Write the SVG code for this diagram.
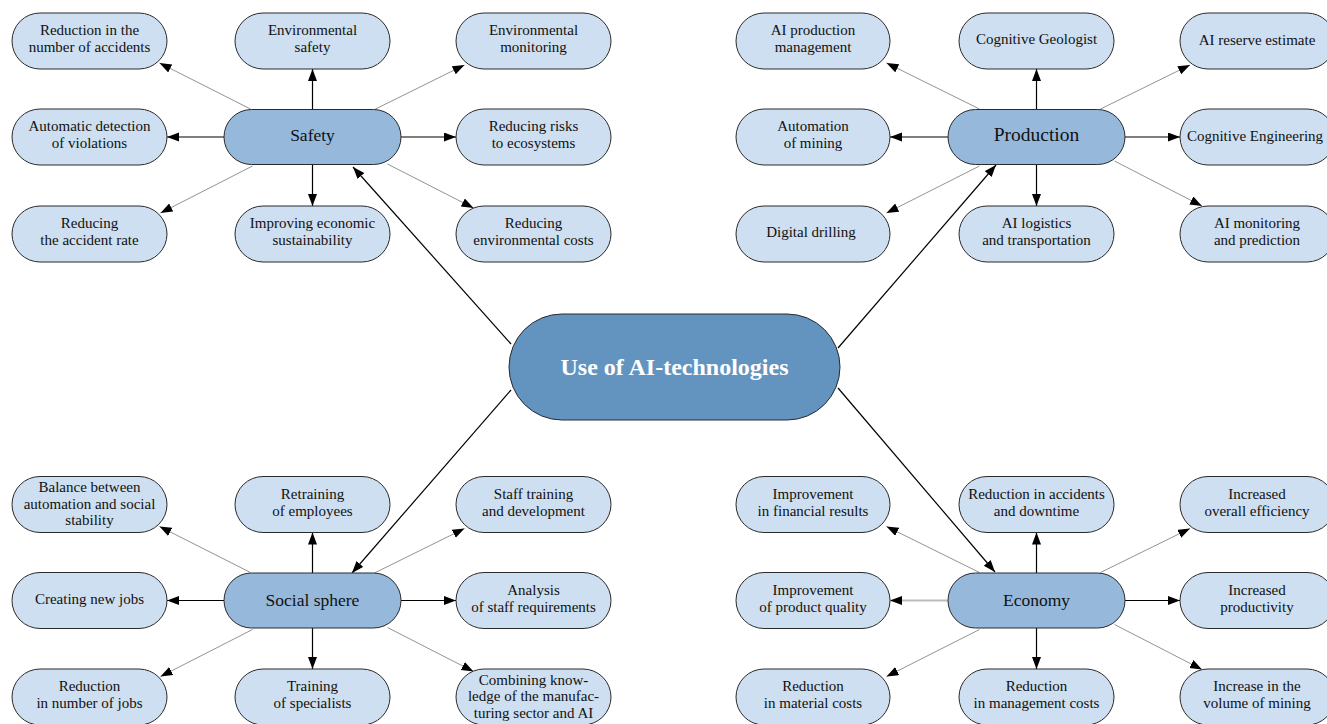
<svg xmlns="http://www.w3.org/2000/svg" width="1327" height="724" viewBox="0 0 1327 724">
<defs>
<marker id="ah" markerUnits="userSpaceOnUse" markerWidth="13" markerHeight="10" refX="12" refY="4.5" orient="auto">
<path d="M0,0 L12,4.5 L0,9 z" fill="#000"/>
</marker>
<style>
.leaf{fill:#cddff0;stroke:#2a2a2a;stroke-width:1}
.hub{fill:#95b8db;stroke:#2a2a2a;stroke-width:1}
.core{fill:#6394c0;stroke:#2a2a2a;stroke-width:1}
text{font-family:"Liberation Serif","Times New Roman",serif;fill:#111;text-anchor:middle}
.lt{font-size:15px}
.ht{font-size:17.5px}
.pt{font-size:19.5px}
.ct{font-size:24px;font-weight:bold;fill:#fff}
.s{stroke:#000;stroke-width:1.2;fill:none;marker-end:url(#ah)}
.d{stroke:#777;stroke-width:0.8;fill:none;marker-end:url(#ah)}
.g{stroke:#bbb;stroke-width:2;fill:none;marker-end:url(#ah)}
</style>
</defs>
<rect width="1327" height="724" fill="#fff"/>

<g id="connectors">
<line class="s" x1="511" y1="344" x2="353" y2="167"/>
<line class="s" x1="838" y1="348" x2="996" y2="165"/>
<line class="s" x1="511" y1="390" x2="352" y2="573"/>
<line class="s" x1="838" y1="388" x2="995" y2="572"/>
<line class="s" x1="312.5" y1="109.5" x2="312.5" y2="69"/>
<line class="s" x1="312.5" y1="164.5" x2="312.5" y2="206"/>
<line class="s" x1="224" y1="137" x2="167" y2="137"/>
<line class="s" x1="401" y1="137" x2="456" y2="137"/>
<line class="d" x1="250.5" y1="109" x2="159.5" y2="63"/>
<line class="d" x1="373.5" y1="110" x2="464.5" y2="65"/>
<line class="d" x1="252.5" y1="166" x2="160.5" y2="213"/>
<line class="d" x1="387.5" y1="164" x2="473.5" y2="208"/>
<line class="s" x1="1036.5" y1="109.5" x2="1036.5" y2="69"/>
<line class="s" x1="1036.5" y1="164.5" x2="1036.5" y2="206"/>
<line class="s" x1="948" y1="137" x2="890" y2="137"/>
<line class="s" x1="1125" y1="137" x2="1180" y2="137"/>
<line class="d" x1="979.5" y1="109" x2="886.5" y2="63"/>
<line class="d" x1="1100.5" y1="109" x2="1190" y2="65"/>
<line class="d" x1="979.5" y1="166" x2="886.5" y2="213"/>
<line class="d" x1="1114.5" y1="161" x2="1202" y2="206"/>
<line class="s" x1="312.5" y1="573" x2="312.5" y2="532.5"/>
<line class="s" x1="312.5" y1="628" x2="312.5" y2="669"/>
<line class="s" x1="224" y1="600.5" x2="167" y2="600.5"/>
<line class="s" x1="401" y1="600.5" x2="456" y2="600.5"/>
<line class="d" x1="250.5" y1="572.5" x2="159.5" y2="526.5"/>
<line class="d" x1="373.5" y1="573.5" x2="464.5" y2="528.5"/>
<line class="d" x1="252.5" y1="629.5" x2="160.5" y2="676.5"/>
<line class="d" x1="387.5" y1="627.5" x2="473.5" y2="671.5"/>
<line class="s" x1="1036.5" y1="573" x2="1036.5" y2="532.5"/>
<line class="s" x1="1036.5" y1="628" x2="1036.5" y2="669"/>
<line class="g" x1="948" y1="600.5" x2="890" y2="600.5"/>
<line class="s" x1="1125" y1="600.5" x2="1180" y2="600.5"/>
<line class="d" x1="979.5" y1="572.5" x2="886.5" y2="526.5"/>
<line class="d" x1="1100.5" y1="572.5" x2="1190" y2="528.5"/>
<line class="d" x1="979.5" y1="629.5" x2="886.5" y2="676.5"/>
<line class="d" x1="1114.5" y1="624.5" x2="1202" y2="669.5"/>
</g>

<g id="core">
<rect class="core" x="509" y="314" width="331" height="106" rx="53"/>
<text class="ct" x="674.5" y="375">Use of AI-technologies</text>
</g>

<g id="safety"><rect class="hub" x="224" y="109.5" width="177" height="55" rx="27.5"/><text class="ht" x="312.5" y="141">Safety</text></g>
<g id="s-tl"><rect class="leaf" x="12" y="13" width="155" height="56" rx="28"/><text class="lt" x="89.5" y="35">Reduction in the</text><text class="lt" x="89.5" y="52">number of accidents</text></g>
<g id="s-tm"><rect class="leaf" x="235" y="13" width="155" height="56" rx="28"/><text class="lt" x="312.5" y="35">Environmental</text><text class="lt" x="312.5" y="52">safety</text></g>
<g id="s-tr"><rect class="leaf" x="456" y="13" width="155" height="56" rx="28"/><text class="lt" x="533.5" y="35">Environmental</text><text class="lt" x="533.5" y="52">monitoring</text></g>
<g id="s-ml"><rect class="leaf" x="12" y="109" width="155" height="56" rx="28"/><text class="lt" x="89.5" y="131">Automatic detection</text><text class="lt" x="89.5" y="148">of violations</text></g>
<g id="s-mr"><rect class="leaf" x="456" y="109" width="155" height="56" rx="28"/><text class="lt" x="533.5" y="131">Reducing risks</text><text class="lt" x="533.5" y="148">to ecosystems</text></g>
<g id="s-bl"><rect class="leaf" x="12" y="206" width="155" height="56" rx="28"/><text class="lt" x="89.5" y="228">Reducing</text><text class="lt" x="89.5" y="245">the accident rate</text></g>
<g id="s-bm"><rect class="leaf" x="235" y="206" width="155" height="56" rx="28"/><text class="lt" x="312.5" y="228">Improving economic</text><text class="lt" x="312.5" y="245">sustainability</text></g>
<g id="s-br"><rect class="leaf" x="456" y="206" width="155" height="56" rx="28"/><text class="lt" x="533.5" y="228">Reducing</text><text class="lt" x="533.5" y="245">environmental costs</text></g>

<g id="production"><rect class="hub" x="948" y="109.5" width="177" height="55" rx="27.5"/><text class="pt" x="1036.5" y="141">Production</text></g>
<g id="p-tl"><rect class="leaf" x="736" y="13" width="154" height="56" rx="28"/><text class="lt" x="813" y="35">AI production</text><text class="lt" x="813" y="52">management</text></g>
<g id="p-tm"><rect class="leaf" x="959" y="13" width="155" height="56" rx="28"/><text class="lt" x="1036.5" y="44">Cognitive Geologist</text></g>
<g id="p-tr"><rect class="leaf" x="1180" y="13" width="155" height="56" rx="28"/><text class="lt" x="1257" y="45">AI reserve estimate</text></g>
<g id="p-ml"><rect class="leaf" x="736" y="109" width="154" height="56" rx="28"/><text class="lt" x="813" y="131">Automation</text><text class="lt" x="813" y="148">of mining</text></g>
<g id="p-mr"><rect class="leaf" x="1180" y="109" width="155" height="56" rx="28"/><text class="lt" x="1255" y="141">Cognitive Engineering</text></g>
<g id="p-bl"><rect class="leaf" x="736" y="206" width="154" height="56" rx="28"/><text class="lt" x="811" y="237">Digital drilling</text></g>
<g id="p-bm"><rect class="leaf" x="959" y="206" width="155" height="56" rx="28"/><text class="lt" x="1036.5" y="228">AI logistics</text><text class="lt" x="1036.5" y="245">and transportation</text></g>
<g id="p-br"><rect class="leaf" x="1180" y="206" width="155" height="56" rx="28"/><text class="lt" x="1257" y="228">AI monitoring</text><text class="lt" x="1257" y="245">and prediction</text></g>

<g id="social"><rect class="hub" x="224" y="573" width="177" height="55" rx="27.5"/><text class="ht" x="312.5" y="605.5">Social sphere</text></g>
<g id="so-tl"><rect class="leaf" x="12" y="476.5" width="155" height="56" rx="28"/><text class="lt" x="89.5" y="492">Balance between</text><text class="lt" x="89.5" y="508.5">automation and social</text><text class="lt" x="89.5" y="525">stability</text></g>
<g id="so-tm"><rect class="leaf" x="235" y="476.5" width="155" height="56" rx="28"/><text class="lt" x="312.5" y="498.5">Retraining</text><text class="lt" x="312.5" y="515.5">of employees</text></g>
<g id="so-tr"><rect class="leaf" x="456" y="476.5" width="155" height="56" rx="28"/><text class="lt" x="533.5" y="498.5">Staff training</text><text class="lt" x="533.5" y="515.5">and development</text></g>
<g id="so-ml"><rect class="leaf" x="12" y="572.5" width="155" height="56" rx="28"/><text class="lt" x="89.5" y="604">Creating new jobs</text></g>
<g id="so-mr"><rect class="leaf" x="456" y="572.5" width="155" height="56" rx="28"/><text class="lt" x="533.5" y="594.5">Analysis</text><text class="lt" x="533.5" y="611.5">of staff requirements</text></g>
<g id="so-bl"><rect class="leaf" x="12" y="669" width="155" height="56" rx="28"/><text class="lt" x="89.5" y="691">Reduction</text><text class="lt" x="89.5" y="708">in number of jobs</text></g>
<g id="so-bm"><rect class="leaf" x="235" y="669" width="155" height="56" rx="28"/><text class="lt" x="312.5" y="691">Training</text><text class="lt" x="312.5" y="708">of specialists</text></g>
<g id="so-br"><rect class="leaf" x="456" y="669" width="155" height="56" rx="28"/><text class="lt" x="533.5" y="684.5">Combining know-</text><text class="lt" x="533.5" y="701">ledge of the manufac-</text><text class="lt" x="533.5" y="717.5">turing sector and AI</text></g>

<g id="economy"><rect class="hub" x="948" y="573" width="177" height="55" rx="27.5"/><text class="ht" x="1036.5" y="605.5">Economy</text></g>
<g id="e-tl"><rect class="leaf" x="736" y="476.5" width="154" height="56" rx="28"/><text class="lt" x="813" y="498.5">Improvement</text><text class="lt" x="813" y="515.5">in financial results</text></g>
<g id="e-tm"><rect class="leaf" x="959" y="476.5" width="155" height="56" rx="28"/><text class="lt" x="1036.5" y="498.5">Reduction in accidents</text><text class="lt" x="1036.5" y="515.5">and downtime</text></g>
<g id="e-tr"><rect class="leaf" x="1180" y="476.5" width="155" height="56" rx="28"/><text class="lt" x="1257" y="498.5">Increased</text><text class="lt" x="1257" y="515.5">overall efficiency</text></g>
<g id="e-ml"><rect class="leaf" x="736" y="572.5" width="154" height="56" rx="28"/><text class="lt" x="813" y="594.5">Improvement</text><text class="lt" x="813" y="611.5">of product quality</text></g>
<g id="e-mr"><rect class="leaf" x="1180" y="572.5" width="155" height="56" rx="28"/><text class="lt" x="1257" y="594.5">Increased</text><text class="lt" x="1257" y="611.5">productivity</text></g>
<g id="e-bl"><rect class="leaf" x="736" y="669" width="154" height="56" rx="28"/><text class="lt" x="813" y="691">Reduction</text><text class="lt" x="813" y="708">in material costs</text></g>
<g id="e-bm"><rect class="leaf" x="959" y="669" width="155" height="56" rx="28"/><text class="lt" x="1036.5" y="691">Reduction</text><text class="lt" x="1036.5" y="708">in management costs</text></g>
<g id="e-br"><rect class="leaf" x="1180" y="669" width="155" height="56" rx="28"/><text class="lt" x="1257" y="691">Increase in the</text><text class="lt" x="1257" y="708">volume of mining</text></g>
</svg>
